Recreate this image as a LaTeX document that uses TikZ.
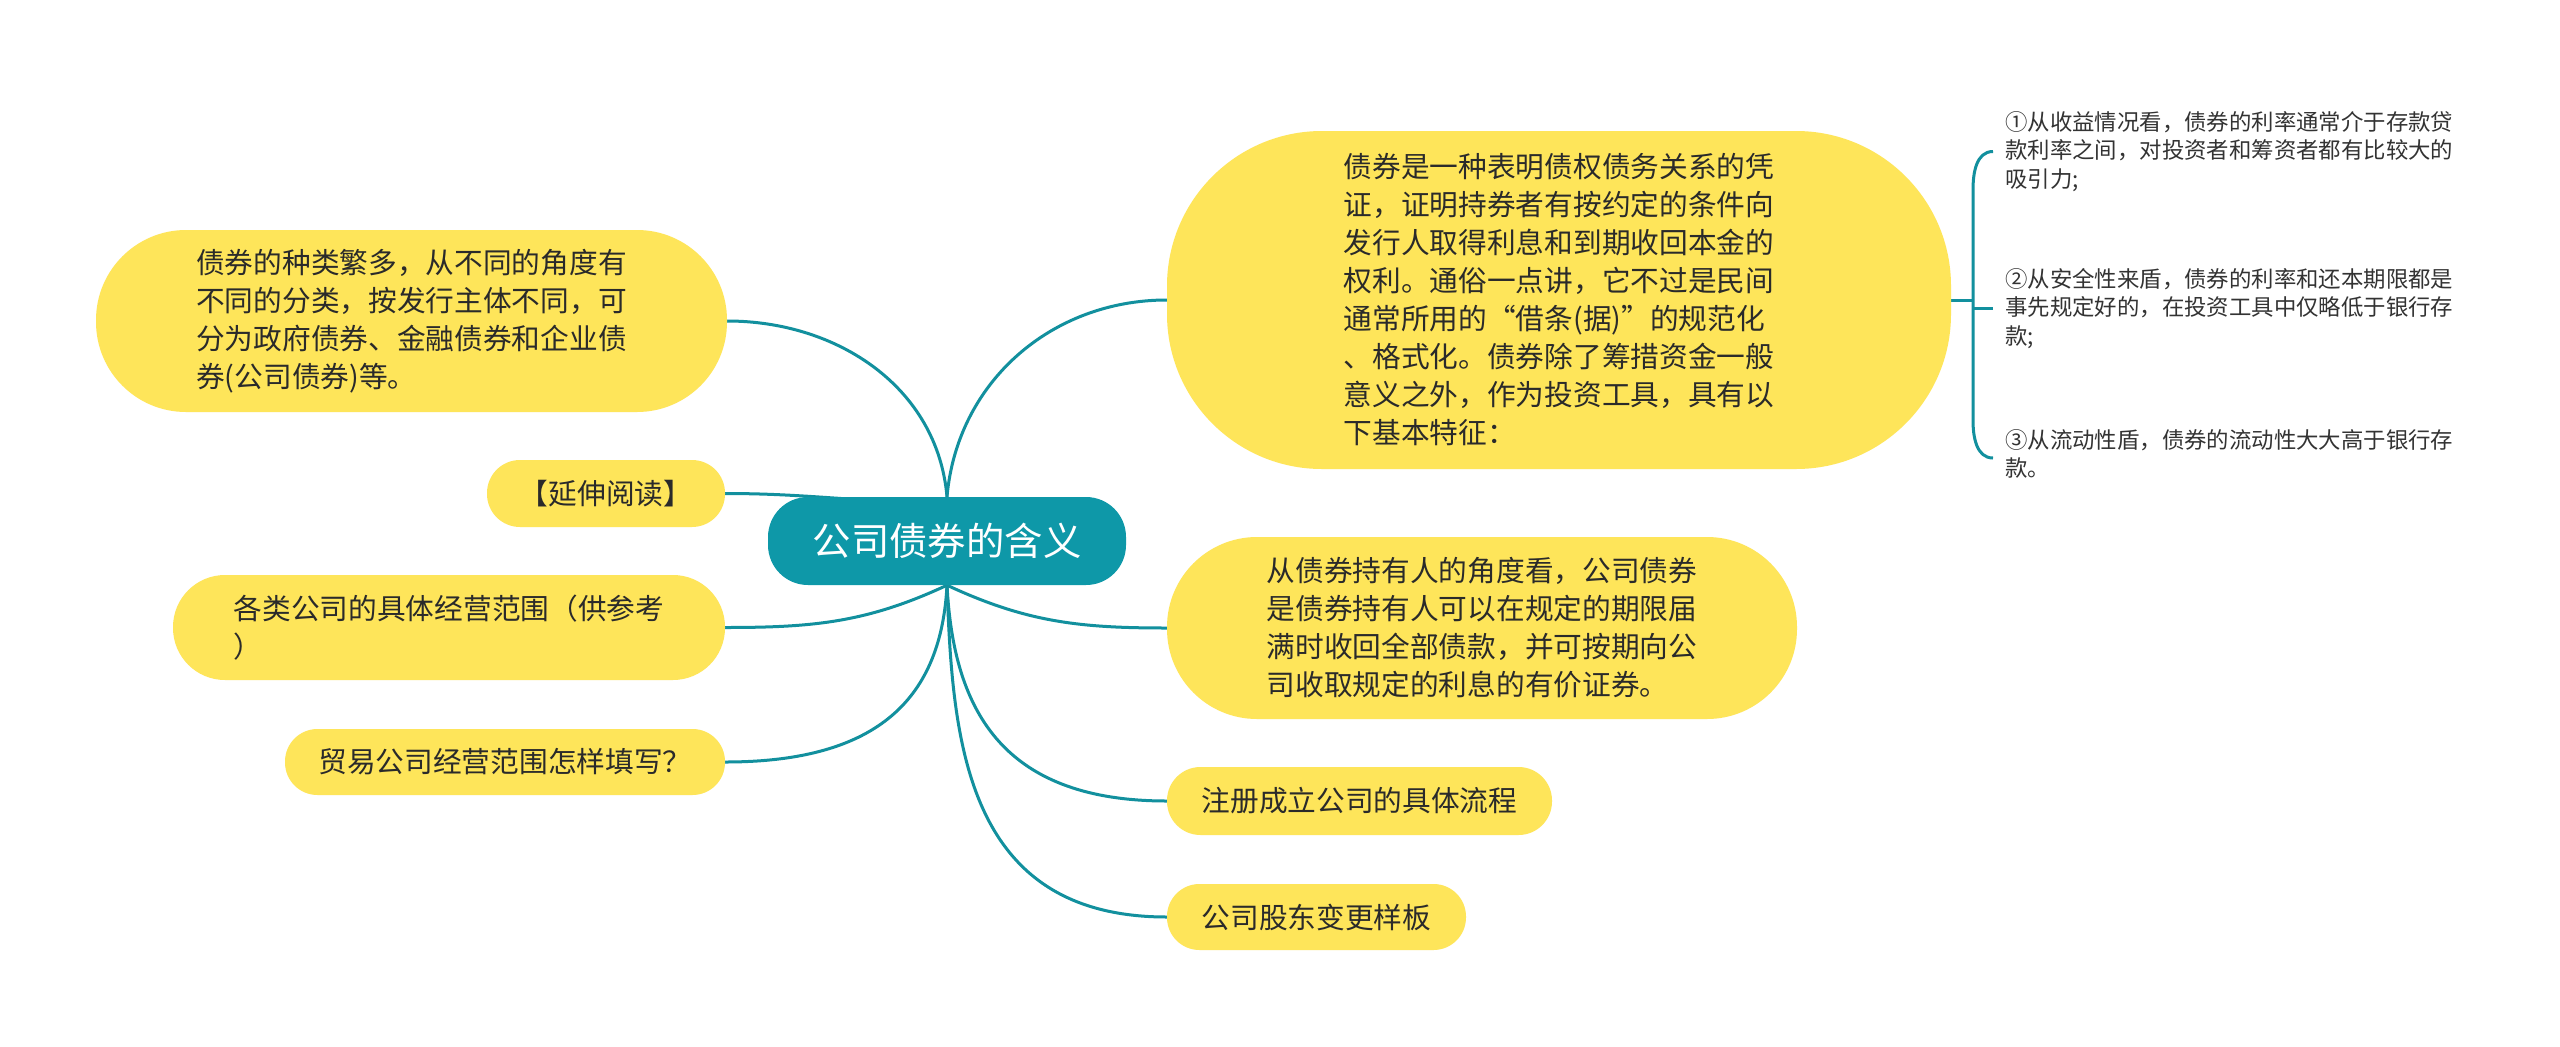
\documentclass[tikz,border=0pt]{standalone}
\usepackage{fontspec}
\setmainfont{Noto Sans CJK SC}
\usetikzlibrary{calc}
\pgfdeclarelayer{bg}
\pgfsetlayers{bg,main}
\definecolor{yel}{HTML}{FEE55A}
\definecolor{tealc}{HTML}{0E98A8}
\definecolor{linec}{HTML}{12909E}
\definecolor{txt}{HTML}{2A2A2A}
\definecolor{txtb}{HTML}{333333}
\tikzset{
  leaf/.style={fill=yel, text=txt, inner sep=0pt, align=left,
    font=\fontsize{28.7}{38}\selectfont},
  rootbox/.style={fill=tealc, text=white, inner sep=0pt,
    font=\fontsize{38.4}{46}\selectfont},
  conn/.style={draw=linec, line width=3pt},
  itemtext/.style={text=txtb, inner sep=0pt, align=left, anchor=west,
    font=\fontsize{22.4}{28.5}\selectfont},
}
\begin{document}
\begin{tikzpicture}[x=1pt,y=1pt]
\useasboundingbox (0,0) rectangle (2560,-1047);
% central node
\node[rootbox, minimum width=358pt, minimum height=88pt, rounded corners=40pt] (root) at (947,-541) {公司债券的含义};
% right nodes
\node[leaf, minimum width=784pt, minimum height=338pt, rounded corners=155pt] (R1) at (1559,-300) {债券是一种表明债权债务关系的凭\\
证，证明持券者有按约定的条件向\\
发行人取得利息和到期收回本金的\\
权利。通俗一点讲，它不过是民间\\
通常所用的“借条(据)”的规范化\\
、格式化。债券除了筹措资金一般\\
意义之外，作为投资工具，具有以\\
下基本特征：};
\node[leaf, minimum width=630pt, minimum height=182pt, rounded corners=90pt] (R2) at (1482,-628) {从债券持有人的角度看，公司债券\\
是债券持有人可以在规定的期限届\\
满时收回全部债款，并可按期向公\\
司收取规定的利息的有价证券。};
\node[leaf, minimum width=385pt, minimum height=68pt, rounded corners=33.5pt] (R3) at (1359.5,-801) {注册成立公司的具体流程};
\node[leaf, minimum width=299pt, minimum height=66pt, rounded corners=32.5pt] (R4) at (1316.5,-917) {公司股东变更样板};
% left nodes
\node[leaf, minimum width=631pt, minimum height=182pt, rounded corners=90pt] (L1) at (411.5,-321) {债券的种类繁多，从不同的角度有\\
不同的分类，按发行主体不同，可\\
分为政府债券、金融债券和企业债\\
券(公司债券)等。};
\node[leaf, minimum width=238pt, minimum height=67pt, rounded corners=33pt] (L2) at (606,-493.5) {【延伸阅读】};
\node[leaf, minimum width=552pt, minimum height=105pt, rounded corners=52pt] (L3) at (449,-627.5) {各类公司的具体经营范围（供参考\\
）};
\node[leaf, minimum width=440pt, minimum height=66pt, rounded corners=32.5pt] (L4) at (505,-762) {贸易公司经营范围怎样填写？};
% feature items
\node[itemtext] (I1) at (2005,-151.5) {①从收益情况看，债券的利率通常介于存款贷\\
款利率之间，对投资者和筹资者都有比较大的\\
吸引力;};
\node[itemtext] (I2) at (2005,-308.5) {②从安全性来盾，债券的利率和还本期限都是\\
事先规定好的，在投资工具中仅略低于银行存\\
款;};
\node[itemtext] (I3) at (2005,-454) {③从流动性盾，债券的流动性大大高于银行存\\
款。};
% bracket coordinates
\coordinate (bt) at ([xshift=-12pt]I1.west);
\coordinate (bm) at ([xshift=-12pt]I2.west);
\coordinate (bb) at ([xshift=-12pt,yshift=-4pt]I3.west);
\coordinate (trunk) at (1973,-300);
\coordinate (trunkm) at (1973,-308.5);
\coordinate (trunkt) at (1973,-190);
\coordinate (trunkb) at (1973,-420);
\begin{pgfonlayer}{bg}
\fill[white] (0,0) rectangle (2560,-1047);
\draw[conn] (root.north) to[out=95,in=0] (L1.east);
\draw[conn] (root.north) to[out=85,in=180] (R1.west);
\draw[conn] ([yshift=-6pt]root.north) to[out=180,in=0] (L2.east);
\draw[conn] (root.south) to[out=205,in=0] (L3.east);
\draw[conn] (root.south) to[out=-93,in=0,in looseness=1.4] (L4.east);
\draw[conn] (root.south) to[out=-25,in=180] (R2.west);
\draw[conn] (root.south) to[out=-87,in=180,in looseness=1.4] (R3.west);
\draw[conn] (root.south) to[out=-88,in=180,in looseness=1.3] (R4.west);
\draw[conn] (R1.east) -- (trunk);
\draw[conn] (bt) to[out=180,in=90] (trunkt) -- (trunkb) to[out=-90,in=180] (bb);
\draw[conn] (trunkm) -- (bm);
\end{pgfonlayer}
\end{tikzpicture}
\end{document}
